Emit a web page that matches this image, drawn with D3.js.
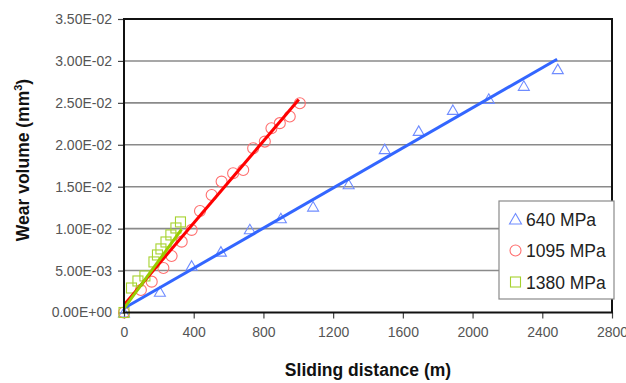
<!DOCTYPE html>
<html>
<head>
<meta charset="utf-8">
<script src="https://cdn.jsdelivr.net/npm/d3@7"></script>
<style>
  html, body { margin: 0; padding: 0; background: #fff; }
  svg { display: block; font-family: Arial, "Liberation Sans", sans-serif; }
</style>
</head>
<body>
<svg id="chart" width="626" height="383"></svg>
<script>
// ---- data ----
const xTicks = [0, 400, 800, 1200, 1600, 2000, 2400, 2800];
const xTickLabels = ["0", "400", "800", "1200", "1600", "2000", "2400", "2800"];
const yTicks = [0, 0.005, 0.010, 0.015, 0.020, 0.025, 0.030, 0.035];
const yTickLabels = ["0.00E+00", "5.00E-03", "1.00E-02", "1.50E-02", "2.00E-02", "2.50E-02", "3.00E-02", "3.50E-02"];

const seriesNames = ["640 MPa", "1095 MPa", "1380 MPa"];

const dist640 = [0, 206, 388, 556, 722, 900, 1085, 1289, 1496, 1691, 1887, 2093, 2294, 2489];
const vol640  = [0, 0.00248, 0.00558, 0.00726, 0.00993, 0.01124, 0.01263, 0.01530, 0.01948, 0.02166, 0.02416, 0.02548, 0.02703, 0.02902];

const dist1095 = [0, 97, 159, 226, 273, 331, 388, 436, 503, 560, 626, 684, 741, 808, 846, 894, 951, 1009];
const vol1095  = [0, 0.00268, 0.00368, 0.00531, 0.00674, 0.00845, 0.00985, 0.01211, 0.01402, 0.01561, 0.01661, 0.01700, 0.01959, 0.02038, 0.02198, 0.02258, 0.02337, 0.02496];

const dist1380 = [0, 43, 80, 120, 172, 192, 212, 241, 269, 298, 324];
const vol1380  = [0, 0.00292, 0.00376, 0.00436, 0.00603, 0.00686, 0.00758, 0.00841, 0.00925, 0.01008, 0.0108];

// linear trend lines (start / end)
const trendX640 = [0, 2485],  trendY640 = [0.0005, 0.0302];
const trendX1095 = [0, 1003], trendY1095 = [0.0009, 0.0254];
const trendX1380 = [0, 330],  trendY1380 = [0.0005, 0.0099];

// ---- chart ----
const svg = d3.select("#chart");
const L = 124, R = 612, T = 19, B = 312.5;
const x = d3.scaleLinear().domain([0, 2800]).range([L, R]);
const y = d3.scaleLinear().domain([0, 0.035]).range([B, T]);

const styles = [
  { marker: "triangle", stroke: "#6f8cff", line: "#3366ff" },
  { marker: "circle",   stroke: "#ff6f6f", line: "#ff0000" },
  { marker: "square",   stroke: "#a6d22e", line: "#99cc00" }
];

// gridlines
svg.append("g").selectAll("line").data(yTicks.slice(1, -1)).join("line")
  .attr("x1", L).attr("x2", R)
  .attr("y1", d => y(d)).attr("y2", d => y(d))
  .attr("stroke", "#8a8a8a").attr("stroke-width", 1.6);

// axes
const xAxis = d3.axisBottom(x).tickValues(xTicks).tickSize(6).tickPadding(9)
  .tickFormat((d, i) => xTickLabels[i]);
const yAxis = d3.axisLeft(y).tickValues(yTicks).tickSize(6).tickPadding(6)
  .tickFormat((d, i) => yTickLabels[i]);

const gx = svg.append("g").attr("transform", `translate(0,${B})`).call(xAxis);
const gy = svg.append("g").attr("transform", `translate(${L},0)`).call(yAxis);
[gx, gy].forEach(g => {
  g.select(".domain").remove();
  g.selectAll(".tick line").attr("stroke", "#444").attr("stroke-width", 1.2);
  g.selectAll(".tick text").attr("fill", "#555").style("font-size", "14px")
    .style("font-family", "Arial, 'Liberation Sans', sans-serif");
});

// markers
function drawMarkers(xs, ys, st) {
  const g = svg.append("g");
  const pts = xs.map((d, i) => [x(d), y(ys[i])]);
  if (st.marker === "triangle") {
    g.selectAll("path").data(pts).join("path")
      .attr("d", p => `M${p[0]},${p[1] - 5} L${p[0] + 5.5},${p[1] + 4.5} L${p[0] - 5.5},${p[1] + 4.5} Z`)
      .attr("fill", "none").attr("stroke", st.stroke).attr("stroke-width", 1.1);
  } else if (st.marker === "circle") {
    g.selectAll("circle").data(pts).join("circle")
      .attr("cx", p => p[0]).attr("cy", p => p[1]).attr("r", 5.5)
      .attr("fill", "none").attr("stroke", st.stroke).attr("stroke-width", 1.1);
  } else {
    g.selectAll("rect").data(pts).join("rect")
      .attr("x", p => p[0] - 5).attr("y", p => p[1] - 5).attr("width", 10).attr("height", 10)
      .attr("fill", "none").attr("stroke", st.stroke).attr("stroke-width", 1.1);
  }
}
drawMarkers(dist640, vol640, styles[0]);
drawMarkers(dist1095, vol1095, styles[1]);
drawMarkers(dist1380, vol1380, styles[2]);

// trend lines
const line = d3.line().x(d => x(d[0])).y(d => y(d[1]));
[[trendX640, trendY640], [trendX1095, trendY1095], [trendX1380, trendY1380]].forEach((t, i) => {
  svg.append("path").datum(t[0].map((d, j) => [d, t[1][j]]))
    .attr("d", line).attr("fill", "none")
    .attr("stroke", styles[i].line).attr("stroke-width", 3);
});

// plot frame
svg.append("rect").attr("x", L).attr("y", T).attr("width", R - L).attr("height", B - T)
  .attr("fill", "none").attr("stroke", "#111").attr("stroke-width", 2);

// axis titles
svg.append("text").attr("x", 368).attr("y", 376).attr("text-anchor", "middle")
  .style("font-size", "17.5px").style("font-weight", "bold").attr("fill", "#111")
  .text("Sliding distance (m)");

const yt = svg.append("text").attr("transform", "translate(29,160) rotate(-90)")
  .attr("text-anchor", "middle").style("font-size", "17.5px").style("font-weight", "bold").attr("fill", "#111");
yt.append("tspan").text("Wear volume (mm");
yt.append("tspan").attr("dy", -7).style("font-size", "11px").text("3");
yt.append("tspan").attr("dy", 7).text(")");

// legend
const lg = svg.append("g");
lg.append("rect").attr("x", 499).attr("y", 201).attr("width", 115).attr("height", 98)
  .attr("fill", "#fff").attr("stroke", "#8a8a8a").attr("stroke-width", 1.2);
const rowsY = [219, 250.5, 282];
seriesNames.forEach((name, i) => {
  const cx = 515.5, cy = rowsY[i], st = styles[i];
  if (st.marker === "triangle") {
    lg.append("path").attr("d", `M${cx},${cy - 5.5} L${cx + 6},${cy + 5} L${cx - 6},${cy + 5} Z`)
      .attr("fill", "none").attr("stroke", st.stroke).attr("stroke-width", 1.1);
  } else if (st.marker === "circle") {
    lg.append("circle").attr("cx", cx).attr("cy", cy).attr("r", 5.5)
      .attr("fill", "none").attr("stroke", st.stroke).attr("stroke-width", 1.1);
  } else {
    lg.append("rect").attr("x", cx - 5).attr("y", cy - 5).attr("width", 10).attr("height", 10)
      .attr("fill", "none").attr("stroke", st.stroke).attr("stroke-width", 1.1);
  }
  lg.append("text").attr("x", 526).attr("y", cy + 6.5)
    .style("font-size", "17.5px").attr("fill", "#222").text(name);
});
</script>
</body>
</html>
